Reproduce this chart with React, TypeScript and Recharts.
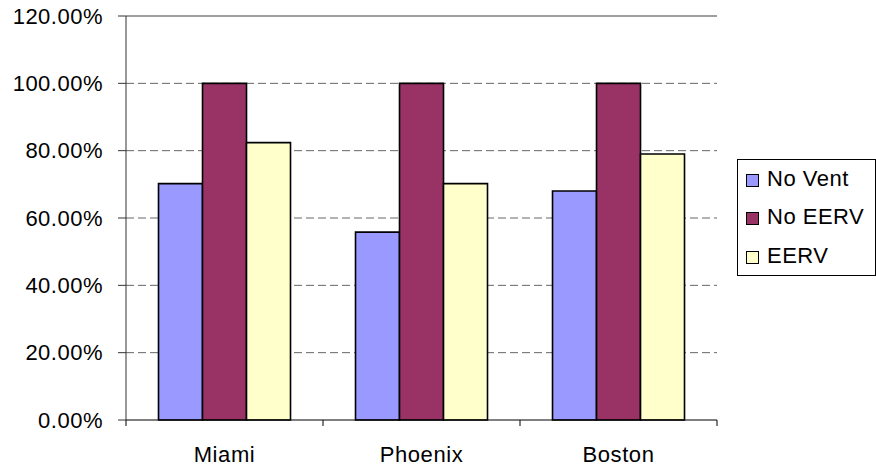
import React from 'react';
import {
  BarChart,
  Bar,
  XAxis,
  YAxis,
  CartesianGrid,
  Legend
} from 'recharts';

// cities on the x axis
const cities = ['Miami', 'Phoenix', 'Boston'];

// series values, in percent
const noVent = [70.2, 55.8, 68.0];
const noEerv = [100, 100, 100];
const eerv = [82.4, 70.2, 79.0];

const yTicks = [0, 20, 40, 60, 80, 100, 120];
// dashed lines only inside the frame, solid frame line at the top
const gridValues = [20, 40, 60, 80, 100];
const frameValues = [120];

const seriesInfo = [
  { key: 'noVent', name: 'No Vent', color: '#9999FF' },
  { key: 'noEerv', name: 'No EERV', color: '#993366' },
  { key: 'eerv', name: 'EERV', color: '#FFFFCC' }
];

const data = cities.map((city, i) => ({
  city,
  noVent: noVent[i],
  noEerv: noEerv[i],
  eerv: eerv[i]
}));

const FONT = '"Liberation Sans", Arial, sans-serif';

// Excel-like category tick: marks sit on the category edges
const CityTick = (props: any) => {
  const { x, y, payload, index } = props;
  const half = payload.offset || 0;
  const last = index === cities.length - 1;
  return (
    <g>
      <line x1={x - half} y1={y} x2={x - half} y2={y + 6} stroke="#000" />
      {last && <line x1={x + half} y1={y} x2={x + half} y2={y + 6} stroke="#000" />}
      <text x={x} y={y + 42} textAnchor="middle" fontSize={22} letterSpacing={0.6} fontFamily={FONT} fill="#000">
        {payload.value}
      </text>
    </g>
  );
};

const BoxLegend = () => (
  <div style={{
    width: 139,
    height: 117,
    border: '1px solid #000',
    boxSizing: 'border-box',
    background: '#fff',
    fontFamily: FONT,
    fontSize: 22,
    letterSpacing: 0.5,
    color: '#000'
  }}>
    {seriesInfo.map(s => (
      <div key={s.key} style={{ height: 38.3, display: 'flex', alignItems: 'center', paddingLeft: 8 }}>
        <span style={{
          width: 13,
          height: 13,
          border: '1.5px solid #000',
          background: s.color,
          marginRight: 8,
          marginTop: 3,
          boxSizing: 'border-box'
        }} />
        <span style={{ lineHeight: 1 }}>{s.name}</span>
      </div>
    ))}
  </div>
);

export default function App() {
  return (
    <div style={{ position: 'absolute', left: 0, top: 0, width: 876, height: 470, background: '#fff' }}>
      <BarChart
        width={876}
        height={470}
        data={data}
        margin={{ top: 16, right: 20, bottom: 0, left: 0 }}
        barCategoryGap="16.5%"
        barGap={0}
      >
        <CartesianGrid
          vertical={false}
          horizontalValues={gridValues}
          stroke="#666"
          strokeDasharray="8 4"
        />
        <CartesianGrid
          vertical={false}
          horizontalValues={frameValues}
          stroke="#808080"
          strokeWidth={1.5}
        />
        <XAxis
          dataKey="city"
          height={50}
          interval={0}
          tickSize={0}
          tickMargin={0}
          tickLine={false}
          axisLine={{ stroke: '#000' }}
          tick={<CityTick />}
        />
        <YAxis
          domain={[0, 120]}
          ticks={yTicks}
          width={126}
          tickSize={8}
          tickMargin={15}
          axisLine={{ stroke: '#333' }}
          tickLine={{ stroke: '#333' }}
          tick={{ fontSize: 22, fontFamily: FONT, fill: '#000', letterSpacing: 0.5 }}
          tickFormatter={(v: number) => v.toFixed(2) + '%'}
        />
        <YAxis
          yAxisId="edge"
          orientation="right"
          domain={[0, 120]}
          width={0}
          tick={false}
          tickLine={false}
          axisLine={{ stroke: '#808080', strokeWidth: 1.5 }}
        />
        {seriesInfo.map(s => (
          <Bar
            key={s.key}
            dataKey={s.key}
            name={s.name}
            fill={s.color}
            stroke="#000"
            strokeWidth={1.6}
            isAnimationActive={false}
          />
        ))}
        <Legend
          layout="horizontal"
          verticalAlign="middle"
          align="right"
          content={<BoxLegend />}
          wrapperStyle={{ left: 737, top: 159, width: 139, height: 117 }}
        />
      </BarChart>
    </div>
  );
}
